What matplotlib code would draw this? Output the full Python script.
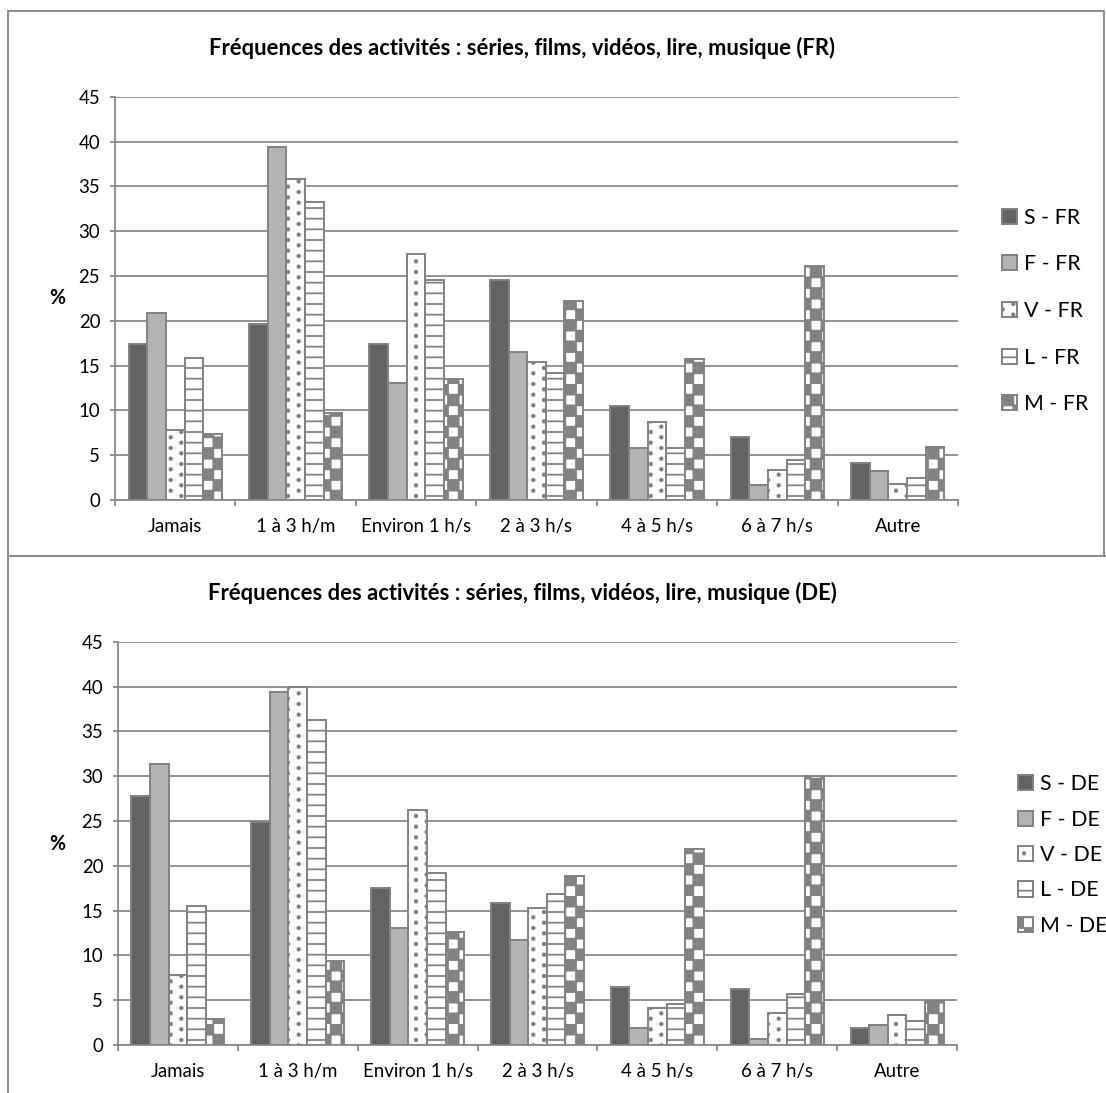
import numpy as np
import matplotlib
matplotlib.use("Agg")
import matplotlib.pyplot as plt
import matplotlib.hatch as mhatch
from matplotlib.path import Path
from matplotlib.lines import Line2D

# categories and series
categories = ["Jamais", "1 à 3 h/m", "Environ 1 h/s", "2 à 3 h/s",
              "4 à 5 h/s", "6 à 7 h/s", "Autre"]
labels_fr = ["S - FR", "F - FR", "V - FR", "L - FR", "M - FR"]
labels_de = ["S - DE", "F - DE", "V - DE", "L - DE", "M - DE"]

fr_s = [17.4, 19.6, 17.4, 24.6, 10.5, 7.0, 4.1]
fr_f = [20.9, 39.4, 13.0, 16.5, 5.8, 1.7, 3.2]
fr_v = [7.8, 35.8, 27.4, 15.4, 8.7, 3.4, 1.8]
fr_l = [15.9, 33.3, 24.5, 14.2, 5.8, 4.5, 2.4]
fr_m = [7.4, 9.7, 13.5, 22.2, 15.7, 26.1, 5.9]

de_s = [27.8, 24.9, 17.5, 15.8, 6.5, 6.2, 1.9]
de_f = [31.4, 39.4, 13.1, 11.7, 1.9, 0.7, 2.2]
de_v = [7.8, 40.0, 26.2, 15.3, 4.1, 3.6, 3.4]
de_l = [15.5, 36.3, 19.2, 16.8, 4.6, 5.7, 2.7]
de_m = [2.9, 9.4, 12.6, 18.9, 21.9, 30.0, 4.9]

title_fr = "Fréquences des activités : séries, films, vidéos, lire, musique (FR)"
title_de = "Fréquences des activités : séries, films, vidéos, lire, musique (DE)"


# --- custom hatch patterns: checkerboard ('O') and staggered dots ('.') ---
class CheckerHatch(mhatch.HatchPatternBase):
    def __init__(self, hatch, density):
        self.cells = 12 if "O" in hatch else 0
        self.num_vertices = (self.cells * self.cells // 2) * 5

    def set_vertices_and_codes(self, vertices, codes):
        s = 1.0 / self.cells
        k = 0
        for i in range(self.cells):
            for j in range(self.cells):
                if (i + j) % 2:
                    continue
                x0, y0 = i * s, j * s
                vertices[k:k + 5] = [(x0, y0), (x0 + s, y0), (x0 + s, y0 + s),
                                     (x0, y0 + s), (x0, y0)]
                codes[k] = Path.MOVETO
                codes[k + 1:k + 4] = Path.LINETO
                codes[k + 4] = Path.CLOSEPOLY
                k += 5


class DotHatch(mhatch.HatchPatternBase):
    def __init__(self, hatch, density):
        self.cells = 12 if "." in hatch else 0
        circle = Path.unit_circle()
        self.dot_verts = circle.vertices
        self.dot_codes = circle.codes
        n = self.cells + 1 if self.cells else 0
        self.num_vertices = n * n * len(self.dot_verts)

    def set_vertices_and_codes(self, vertices, codes):
        s = 1.0 / self.cells
        r = 0.010
        nv = len(self.dot_verts)
        k = 0
        for i in range(self.cells + 1):
            for j in range(self.cells + 1):
                cx = i * s
                cy = (j + 0.5 * (i % 2)) * s
                vertices[k:k + nv] = self.dot_verts * r + (cx, cy)
                codes[k:k + nv] = self.dot_codes
                k += nv


mhatch._hatch_types = [
    CheckerHatch if t is mhatch.LargeCircles else
    DotHatch if t is mhatch.SmallFilledCircles else t
    for t in mhatch._hatch_types
]

plt.rcParams["font.family"] = ["Lato", "DejaVu Sans"]
plt.rcParams["hatch.linewidth"] = 1.0

W, H, DPI = 1106, 1093, 128
EDGE = "#828282"
GRID = "#878787"

bar_styles = [
    dict(color="#636363", edgecolor=EDGE),
    dict(color="#b3b3b3", edgecolor=EDGE),
    dict(color="white", edgecolor=EDGE, hatch=".."),
    dict(color="white", edgecolor=EDGE, hatch="--"),
    dict(color="white", edgecolor=EDGE, hatch="O"),
]


def fx(px):
    return px / W


def fy(py):
    return 1 - py / H


def draw_panel(ax, series, labels):
    x = np.arange(len(categories))
    w = 0.155
    for i, (vals, lab, st) in enumerate(zip(series, labels, bar_styles)):
        ax.bar(x + (i - 2) * w, vals, w, label=lab, linewidth=1.1, **st)

    ax.set_xlim(-0.5, len(categories) - 0.5)
    ax.set_ylim(0, 45)
    ax.set_axisbelow(True)
    ax.yaxis.grid(True, color=GRID, linewidth=1.0)
    for side in ["top", "right"]:
        ax.spines[side].set_visible(False)
    for side in ["left", "bottom"]:
        ax.spines[side].set_color(GRID)
        ax.spines[side].set_linewidth(1.0)

    ax.set_yticks(np.arange(0, 50, 5))
    ax.tick_params(axis="y", length=2.8, width=1.0, color=GRID, pad=5.5,
                   labelsize=10.5)
    ax.set_xticks(np.arange(-0.5, len(categories), 1))
    ax.set_xticklabels([])
    ax.set_xticks(x, minor=True)
    ax.set_xticklabels(categories, minor=True)
    ax.tick_params(axis="x", which="major", length=3.4, width=1.0, color=GRID)
    ax.tick_params(axis="x", which="minor", length=0, pad=10, labelsize=10.5)


fig = plt.figure(figsize=(W / DPI, H / DPI), dpi=DPI)

legend_kw = dict(bbox_transform=fig.transFigure, frameon=False, fontsize=12,
                 borderpad=0, borderaxespad=0, loc="center left",
                 handlelength=0.72, handleheight=0.72, handletextpad=0.3)

ax1 = fig.add_axes([fx(115), fy(500), fx(958) - fx(115), fy(96.7) - fy(500)])
draw_panel(ax1, [fr_s, fr_f, fr_v, fr_l, fr_m], labels_fr)
ax1.legend(bbox_to_anchor=(fx(1002), fy(311)), labelspacing=1.25, **legend_kw)

ax2 = fig.add_axes([fx(118), fy(1045), fx(957) - fx(118), fy(641.7) - fy(1045)])
draw_panel(ax2, [de_s, de_f, de_v, de_l, de_m], labels_de)
ax2.legend(bbox_to_anchor=(fx(1018), fy(855)), labelspacing=0.72, **legend_kw)

fig.text(fx(522), fy(48), title_fr, ha="center", va="center",
         fontsize=12.4, fontweight="bold")
fig.text(fx(522), fy(593), title_de, ha="center", va="center",
         fontsize=12.4, fontweight="bold")
fig.text(fx(57), fy(298.5), "%", ha="center", va="center",
         fontsize=11, fontweight="bold")
fig.text(fx(57), fy(843.5), "%", ha="center", va="center",
         fontsize=11, fontweight="bold")

# chart frames
frame = dict(color="#8c8c8c", linewidth=1.1, transform=fig.transFigure)
fig.add_artist(Line2D([fx(8), fx(1104), fx(1104), fx(8), fx(8)],
                      [fy(11), fy(11), fy(556), fy(556), fy(11)], **frame))
fig.add_artist(Line2D([fx(8), fx(8)], [fy(556), fy(1093)], **frame))
fig.add_artist(Line2D([fx(8), fx(1106)], [fy(556), fy(556)], **frame))

fig.savefig("out.png", dpi=DPI)
